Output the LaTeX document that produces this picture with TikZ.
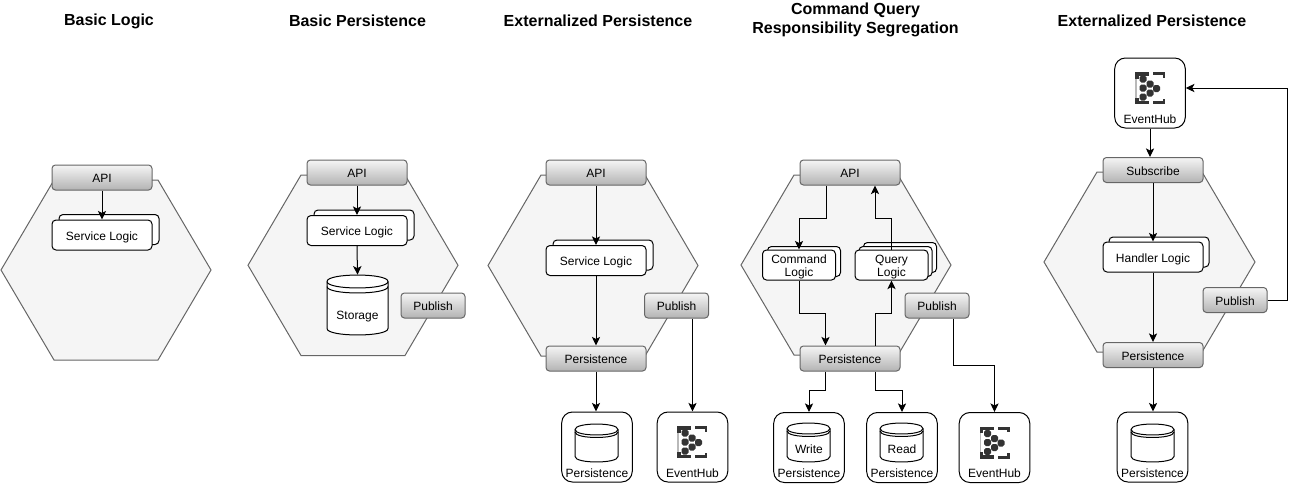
\documentclass[tikz,border=0pt]{standalone}
\usepackage{fontspec}
\setmainfont{Liberation Sans}
\usetikzlibrary{arrows.meta}
\definecolor{edgegray}{HTML}{666666}
\definecolor{hexfill}{HTML}{F5F5F5}
\definecolor{gradtop}{HTML}{F5F5F5}
\definecolor{gradbot}{HTML}{B3B3B3}
\definecolor{iconink}{HTML}{333333}
\tikzset{
  px/.style={x=0.75pt,y=-0.75pt},
  hexshape/.style={draw=edgegray,fill=hexfill,line width=0.75pt},
  portbase/.style={draw=edgegray,line width=0.75pt,rounded corners=2.6pt,top color=gradtop,bottom color=gradbot,
     inner sep=0pt,minimum height=18.75pt,font=\fontsize{9}{10.2}\selectfont,text=black,text height=8.5pt,text depth=1pt},
  portwide/.style={portbase,minimum width=75pt},
  portnarrow/.style={portbase,minimum width=48pt},
  logicbox/.style={draw=black,fill=white,line width=0.75pt,rounded corners=3pt,inner sep=0pt,
     minimum width=75pt,minimum height=22.5pt,font=\fontsize{9}{10.2}\selectfont},
  logicline/.style={logicbox,text height=8.5pt,text depth=1pt},
  logicnarrow/.style={logicbox,minimum width=54.75pt,align=center},
  storebox/.style={draw=black,fill=white,line width=0.75pt,rounded corners=8pt,inner sep=0pt,minimum width=52.9pt,minimum height=52.5pt},
  caption/.style={inner sep=0pt,font=\fontsize{9}{10.2}\selectfont,text height=8.5pt,text depth=1pt},
  heading/.style={inner sep=0pt,font=\fontsize{12}{14}\selectfont\bfseries,align=center},
  conn/.style={draw=black,line width=0.75pt,-{Stealth[length=6.5pt,width=6.2pt,inset=1.6pt]}},
  cylanchor/.style={inner sep=0pt},
}
% hexagon: left, right, top, bottom
\newcommand\hexa[4]{%
  \path[hexshape] (#1,{(#3+#4)/2}) -- ({#1+53},#3) -- ({#2-53},#3) -- (#2,{(#3+#4)/2}) -- ({#2-53},#4) -- ({#1+53},#4) -- cycle;}
% cylinder: name, x1, y1, x2, y2, ry, rim offset
\newcommand\dbcyl[7]{%
  \node[cylanchor,minimum width={(#4-#2)*0.75pt},minimum height={(#5-#3)*0.75pt}] (#1) at ({(#2+#4)/2},{(#3+#5)/2}) {};
  \draw[line width=0.75pt,fill=white] (#2,{#3+#6}) .. controls (#2,{#3+#6-1.33*#6}) and (#4,{#3+#6-1.33*#6}) .. (#4,{#3+#6})
     -- (#4,{#5-#6}) .. controls (#4,{#5-#6+1.33*#6}) and (#2,{#5-#6+1.33*#6}) .. (#2,{#5-#6}) -- cycle;
  \draw[line width=0.75pt] (#2,{#3+#6}) .. controls (#2,{#3+#6+1.33*#6}) and (#4,{#3+#6+1.33*#6}) .. (#4,{#3+#6});
  \draw[line width=0.75pt] (#2,{#3+#6+#7}) .. controls (#2,{#3+#6+#7+1.33*#6}) and (#4,{#3+#6+#7+1.33*#6}) .. (#4,{#3+#6+#7});
}
% event hub icon centred at x,y
\newcommand\hubicon[2]{%
  \begin{scope}[shift={(#1,#2)}]
    \fill[gray!55] (-15,-12) rectangle (-13.5,12);
    \fill[iconink] (-15,-16) rectangle (-1,-12.5);
    \fill[iconink] (-15,-16) rectangle (-11.5,-9.5);
    \fill[iconink] (3,-16) rectangle (15,-13);
    \fill[iconink] (12.5,-16) rectangle (15,-10.5);
    \fill[iconink] (-15,16) rectangle (-1,12.5);
    \fill[iconink] (-15,16) rectangle (-11.5,9.5);
    \fill[iconink] (3,16) rectangle (15,13);
    \fill[iconink] (12.5,16) rectangle (15,10.5);
    \foreach \dx/\dy in {-7/-9,0/-4,-7/0,6.5/0.5,0/5,-7/9}
      \fill[iconink,rounded corners=1.4pt] ({\dx-3.5},{\dy-3.5}) rectangle ({\dx+3.5},{\dy+3.5});
  \end{scope}}
\begin{document}
\begin{tikzpicture}[px]
\useasboundingbox (0,0) rectangle (1296,483);
% headings
\node[heading] (t1) at (109,21) {Basic Logic};
\node[heading] (t2) at (357.5,21) {Basic Persistence};
\node[heading] (t3) at (598,21) {Externalized Persistence};
\node[heading] (t4) at (855.5,20) {Command Query\\Responsibility Segregation};
\node[heading] (t5) at (1152,21) {Externalized Persistence};
% hexagons
\hexa{1}{211}{180}{360}
\hexa{248}{458}{175}{355.5}
\hexa{488}{698}{175}{356}
\hexa{741}{951}{175}{355}
\hexa{1044}{1255}{172}{352}
% --- column 1
\node[logicbox] (s1b) at (109,229.5) {};
\node[logicline] (s1) at (102,235) {Service Logic};
\node[portwide] (a1) at (102,177.5) {API};
\draw[conn] (a1.south) -- (s1.north);
% --- column 2
\node[logicbox] (s2b) at (364,225) {};
\node[logicline] (s2) at (357,230.5) {Service Logic};
\node[portwide] (a2) at (357,172.5) {API};
\node[portnarrow] (p2) at (433,305.5) {Publish};
\dbcyl{st2}{327}{275}{388}{335}{6.5}{5}
\node[caption] (st2t) at (357.5,314.5) {Storage};
\draw[conn] (a2.south) -- (s2.north);
\draw[conn] (s2.south) -- (st2.north);
% --- column 3
\node[logicbox] (s3b) at (603,255) {};
\node[logicline] (s3) at (596,260.5) {Service Logic};
\node[portwide] (a3) at (596,172.5) {API};
\node[portwide] (r3) at (596,358.5) {Persistence};
\node[portnarrow] (p3) at (676.5,305.5) {Publish};
\node[storebox] (d3) at (597,447) {};
\dbcyl{d3c}{575}{424}{618}{462}{5.5}{2.5}
\node[caption] (d3t) at (597,472.5) {Persistence};
\node[storebox] (e3) at (692.5,447) {};
\hubicon{692}{442}
\node[caption] (e3t) at (692.5,472.5) {EventHub};
\draw[conn] (a3.south) -- (s3.north);
\draw[conn] (s3.south) -- (r3.north);
\draw[conn] (r3.south) -- (d3.north -| r3.south);
\draw[conn] (p3.south -| e3.north) -- (e3.north);
% --- column 4
\node[logicnarrow] (c4b) at (804,261.5) {};
\node[logicnarrow] (c4) at (799,265) {\rule{0pt}{9.5pt}Command\\Logic};
\node[logicnarrow] (q4bb) at (900,257.5) {};
\node[logicnarrow] (q4b) at (895.5,261.5) {};
\node[logicnarrow] (q4) at (891.5,265) {\rule{0pt}{9.5pt}Query\\Logic};
\node[portwide] (a4) at (850,172.5) {API};
\node[portwide] (r4) at (850,358.5) {Persistence};
\node[portnarrow] (p4) at (937,305.5) {Publish};
\node[storebox] (w4) at (809,447.5) {};
\dbcyl{w4c}{787}{423}{830}{462}{5.5}{2.5}
\node[caption] (w4l) at (809,448) {Write};
\node[caption] (w4t) at (809,472.5) {Persistence};
\node[storebox] (g4) at (902,447.5) {};
\dbcyl{g4c}{880}{423}{923}{462}{5.5}{2.5}
\node[caption] (g4l) at (902,448) {Read};
\node[caption] (g4t) at (902,472.5) {Persistence};
\node[storebox] (e4) at (994.5,447.5) {};
\hubicon{994.5}{442.5}
\node[caption] (e4t) at (994.5,472.5) {EventHub};
\coordinate (k1) at (826,218);
\coordinate (k2) at (875,218);
\coordinate (k3) at (825.5,313);
\coordinate (k4) at (875,313);
\coordinate (k5) at (953,365.5);
\coordinate (k6) at (825.5,390);
\coordinate (k7) at (875,390);
\draw[conn] (a4.south -| k1) -- (k1) -| (c4.north);
\draw[conn] (c4.south) |- (k3) -- (r4.north -| k3);
\draw[conn] (r4.north -| k4) -- (k4) -| (q4.south);
\draw[conn] (q4.north) |- (k2) -- (a4.south -| k2);
\draw[conn] (p4.south -| k5) -- (k5) -| (e4.north);
\draw[conn] (r4.south -| k6) -- (k6) -| (w4.north);
\draw[conn] (r4.south -| k7) -- (k7) -| (g4.north);
% --- column 5
\node[logicbox] (h5b) at (1159,252) {};
\node[logicline] (h5) at (1153,257) {Handler Logic};
\node[portwide] (u5) at (1153,170) {Subscribe};
\node[portwide] (r5) at (1153,355) {Persistence};
\node[portnarrow] (p5) at (1235,300) {Publish};
\node[storebox] (d5) at (1152.5,447) {};
\dbcyl{d5c}{1131}{424}{1174}{462}{5.5}{2.5}
\node[caption] (d5t) at (1152.5,472.5) {Persistence};
\node[storebox] (e5) at (1150,93) {};
\hubicon{1150}{88}
\node[caption] (e5t) at (1150,118.5) {EventHub};
\coordinate (k8) at (1287,300);
\draw[conn] (e5.south) -- (u5.north -| e5.south);
\draw[conn] (u5.south) -- (h5.north);
\draw[conn] (h5.south) -- (r5.north);
\draw[conn] (r5.south) -- (d5.north -| r5.south);
\draw[conn] (p5.east) -- (k8) |- (e5.east |- 0,88);
\end{tikzpicture}
\end{document}
